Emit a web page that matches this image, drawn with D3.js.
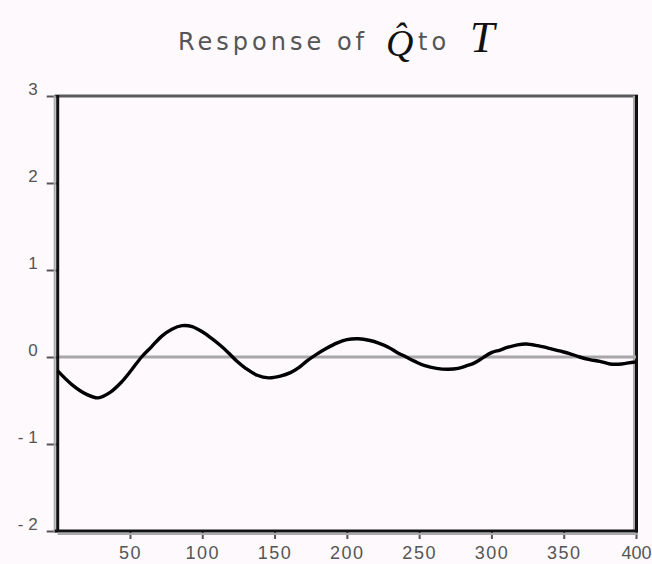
<!DOCTYPE html>
<html>
<head>
<meta charset="utf-8">
<script src="https://cdn.jsdelivr.net/npm/d3@7"></script>
<style>
  body { margin: 0; background: #fdf9fd; }
  svg { display: block; }
</style>
</head>
<body>
<svg id="chart"></svg>
<script>
// data
const steps = [0, 10, 20, 28, 36, 44, 51, 58, 65, 72, 79, 86, 93, 100, 106, 112, 118, 124, 130, 138,
  146, 154, 161, 167, 172, 179, 186, 193, 200, 208, 216, 222, 229, 235, 241, 247, 254, 262, 270, 277,
  283, 288, 294, 300, 306, 311, 318, 324, 332, 340, 347, 354, 361, 368, 375, 382, 390, 398, 400]
const response = [-0.16, -0.32, -0.43, -0.47, -0.41, -0.29, -0.15, 0.0, 0.12, 0.24, 0.32, 0.36, 0.35, 0.29, 0.22, 0.14, 0.05, -0.05, -0.13, -0.21,
  -0.24, -0.22, -0.18, -0.12, -0.05, 0.03, 0.10, 0.16, 0.20, 0.21, 0.19, 0.16, 0.11, 0.05, 0.0, -0.05, -0.10, -0.13, -0.14, -0.13,
  -0.10, -0.07, -0.01, 0.05, 0.08, 0.11, 0.14, 0.15, 0.13, 0.10, 0.07, 0.04, 0.0, -0.03, -0.05, -0.08, -0.08, -0.06, -0.06]
const xTicks = [50, 100, 150, 200, 250, 300, 350, 400]
const yTicks = [-2, -1, 0, 1, 2, 3]

//set up svg container
const width = 652
const height = 564
const plotLeft = 57.7, plotRight = 636, plotTop = 96, plotBottom = 531

const svg = d3.select('#chart')
              .attr('width', width)
              .attr('height', height)

//scales
const xScale = d3.scaleLinear().domain([0, 400]).range([plotLeft, plotRight])
const yScale = d3.scaleLinear().domain([-2, 3]).range([plotBottom, plotTop])

//title
svg.append('text')
   .attr('x', 178)
   .attr('y', 50)
   .style('font-family', 'DejaVu Sans, sans-serif')
   .style('font-size', '24px')
   .style('letter-spacing', '4px')
   .style('fill', '#555')
   .text('Response of')

svg.append('text').attr('x', 386).attr('y', 56)
   .style('font-family', 'Liberation Serif, serif').style('font-style', 'italic')
   .style('font-size', '38px').style('fill', '#111').text('Q\u0302')
svg.append('text').attr('x', 418).attr('y', 50)
   .style('font-family', 'DejaVu Sans, sans-serif')
   .style('font-size', '24px').style('letter-spacing', '4px').style('fill', '#555').text('to')
svg.append('text').attr('x', 470).attr('y', 52)
   .style('font-family', 'Liberation Serif, serif').style('font-style', 'italic')
   .style('font-size', '44px').style('fill', '#111').text('T')

//frame: top gray, right black, with light shading
svg.append('line').attr('x1', plotLeft - 3).attr('x2', plotRight + 2).attr('y1', plotTop).attr('y2', plotTop)
   .attr('stroke', '#5a5a5a').attr('stroke-width', 3)
svg.append('line').attr('x1', plotRight - 2).attr('x2', plotRight - 2).attr('y1', plotTop).attr('y2', plotBottom)
   .attr('stroke', '#aaa').attr('stroke-width', 2)
svg.append('line').attr('x1', plotRight + 0.5).attr('x2', plotRight + 0.5).attr('y1', plotTop - 1).attr('y2', plotBottom)
   .attr('stroke', '#111').attr('stroke-width', 3)

//zero reference line
svg.append('line').attr('x1', plotLeft).attr('x2', plotRight)
   .attr('y1', yScale(0)).attr('y2', yScale(0))
   .attr('stroke', '#a8a8a8').attr('stroke-width', 3)

//axes
const xAxis = d3.axisBottom(xScale).tickValues(xTicks).tickSize(8).tickPadding(7)
const yAxis = d3.axisLeft(yScale).tickValues(yTicks).tickSize(11).tickPadding(9)

const gx = svg.append('g').attr('transform', `translate(0, ${plotBottom})`).call(xAxis)
const gy = svg.append('g').attr('transform', `translate(${plotLeft}, 0)`).call(yAxis)

;[gx, gy].forEach(g => {
  g.select('.domain').remove()
  g.selectAll('.tick line').attr('stroke', '#555').attr('stroke-width', 2)
  g.selectAll('.tick text')
   .style('font-family', 'Liberation Sans, Arial, sans-serif')
   .style('fill', '#555')
})
gx.selectAll('.tick text').style('font-size', '18px')
  .style('letter-spacing', d => d === 400 ? '0px' : '1.5px')
gy.selectAll('.tick text').style('font-size', '17px').attr('dy', '-0.1em')
  .text(d => d < 0 ? '- ' + Math.abs(d) : d)

//axis lines with shadows
svg.append('line').attr('x1', plotLeft - 3).attr('x2', plotLeft - 3).attr('y1', plotTop).attr('y2', plotBottom + 2)
   .attr('stroke', '#aaa').attr('stroke-width', 2)
svg.append('line').attr('x1', plotLeft).attr('x2', plotLeft).attr('y1', plotTop - 1).attr('y2', plotBottom + 1)
   .attr('stroke', '#111').attr('stroke-width', 3)
svg.append('line').attr('x1', plotLeft).attr('x2', plotRight + 2).attr('y1', plotBottom + 3).attr('y2', plotBottom + 3)
   .attr('stroke', '#aaa').attr('stroke-width', 2)
svg.append('line').attr('x1', plotLeft - 3).attr('x2', plotRight + 2).attr('y1', plotBottom).attr('y2', plotBottom)
   .attr('stroke', '#111').attr('stroke-width', 3)

//response curve
const line = d3.line()
               .x((d, i) => xScale(steps[i]))
               .y(d => yScale(d))
               .curve(d3.curveCatmullRom)

svg.append('path')
   .datum(response)
   .attr('d', line)
   .attr('fill', 'none')
   .attr('stroke', '#000')
   .attr('stroke-width', 3.4)
   .attr('stroke-linejoin', 'round')
</script>
</body>
</html>
